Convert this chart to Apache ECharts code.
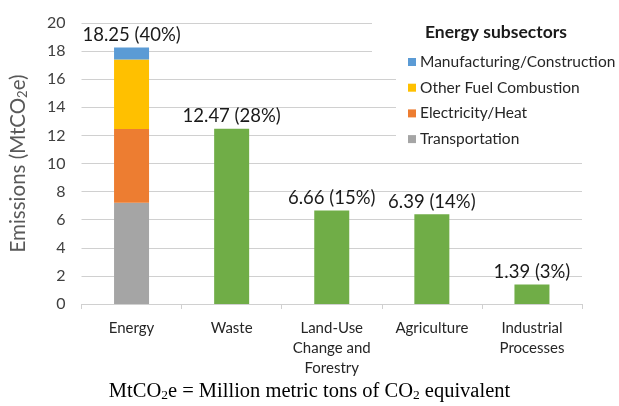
<!DOCTYPE html>
<html>
<head>
<meta charset="utf-8">
<script src="https://cdn.jsdelivr.net/npm/echarts@6/dist/echarts.min.js"></script>
<style>html,body{margin:0;padding:0;background:#fff}#c{width:619px;height:406px}</style>
</head>
<body>
<div id="c"></div>
<script>
const categories = ['Energy', 'Waste', 'Land-Use\nChange and\nForestry', 'Agriculture', 'Industrial\nProcesses'];
const transportation = [7.2, '-', '-', '-', '-'];
const electricityHeat = [5.25, '-', '-', '-', '-'];
const otherFuel = [4.95, '-', '-', '-', '-'];
const manufacturing = [0.85, '-', '-', '-', '-'];
const sectorTotals = ['-', 12.47, 6.66, 6.39, 1.39];
const labelTotals = ['18.25', '12.47', '6.66', '6.39', '1.39'];
const labelShares = [40, 28, 15, 14, 3];
const yTicks = [0, 20, 2];

const FONT = 'Lato';
const labelFmt = p => labelTotals[p.dataIndex] + ' (' + labelShares[p.dataIndex] + '%)';
const labelStyle = { show: true, position: 'top', distance: 3, fontFamily: FONT, fontSize: 18.5, color: '#1a1a1a', formatter: labelFmt };

const chart = echarts.init(document.getElementById('c'), null, { renderer: 'canvas' });
chart.setOption({
  animation: false,
  backgroundColor: '#fff',
  textStyle: { fontFamily: FONT },
  grid: { left: 73, right: 37, top: 23, bottom: 102, containLabel: false },
  xAxis: {
    type: 'category',
    data: categories,
    axisLine: { lineStyle: { color: '#d0d0d0', width: 1 } },
    axisTick: { show: true, length: 5, lineStyle: { color: '#d0d0d0' } },
    axisLabel: { fontFamily: FONT, fontSize: 15, color: '#262626', lineHeight: 20, margin: 14, interval: 0 }
  },
  yAxis: {
    type: 'value',
    min: yTicks[0], max: yTicks[1], interval: yTicks[2],
    name: '{a|Emissions (MtCO}{s|2}{a|e)}',
    nameLocation: 'middle',
    nameGap: 52,
    nameRotate: 90,
    nameTextStyle: {
      rich: {
        a: { fontFamily: FONT, fontSize: 20.5, color: '#595959' },
        s: { fontFamily: FONT, fontSize: 13, color: '#595959', padding: [9, 0, 0, 0] }
      }
    },
    axisLine: { show: false },
    axisTick: { show: false },
    axisLabel: { fontFamily: FONT, fontSize: 16, color: '#404040', margin: 16 },
    splitLine: { lineStyle: { color: '#d0d0d0', width: 1 } }
  },
  legend: {
    orient: 'vertical',
    left: 403, top: 49,
    itemWidth: 8, itemHeight: 8, itemGap: 9.7,
    icon: 'rect',
    data: ['Manufacturing/Construction', 'Other Fuel Combustion', 'Electricity/Heat', 'Transportation'],
    textStyle: { fontFamily: FONT, fontSize: 15.5, color: '#262626', padding: [0, 0, 0, -1] }
  },
  graphic: [
    { type: 'rect', z: 3, shape: { x: 372, y: 0, width: 247, height: 60 }, style: { fill: '#fff' } },
    { type: 'rect', z: 3, shape: { x: 396, y: 60, width: 223, height: 90 }, style: { fill: '#fff' } },
    { type: 'text', z: 5, left: 425, top: 23, style: { text: 'Energy subsectors', fontFamily: FONT, fontSize: 17.5, fontWeight: 'bold', fill: '#1a1a1a' } },
    { type: 'text', z: 5, left: 'center', top: 381, style: {
        text: '{a|MtCO}{s|2}{a|e = Million metric tons of CO}{s|2}{a| equivalent}',
        rich: {
          a: { fontFamily: 'Liberation Serif', fontSize: 20.5, fill: '#000' },
          s: { fontFamily: 'Liberation Serif', fontSize: 13.5, fill: '#000', padding: [8, 0, 0, 0] }
        } } }
  ],
  series: [
    { name: 'Transportation', type: 'bar', stack: 'e', data: transportation, barWidth: 35, itemStyle: { color: '#A5A5A5' } },
    { name: 'Electricity/Heat', type: 'bar', stack: 'e', data: electricityHeat, itemStyle: { color: '#ED7D31' } },
    { name: 'Other Fuel Combustion', type: 'bar', stack: 'e', data: otherFuel, itemStyle: { color: '#FFC000' } },
    { name: 'Manufacturing/Construction', type: 'bar', stack: 'e', data: manufacturing, itemStyle: { color: '#5B9BD5' }, label: labelStyle },
    { name: 'Sector', type: 'bar', stack: 'e', data: sectorTotals, itemStyle: { color: '#70AD47' }, label: labelStyle }
  ]
});
</script>
</body>
</html>
